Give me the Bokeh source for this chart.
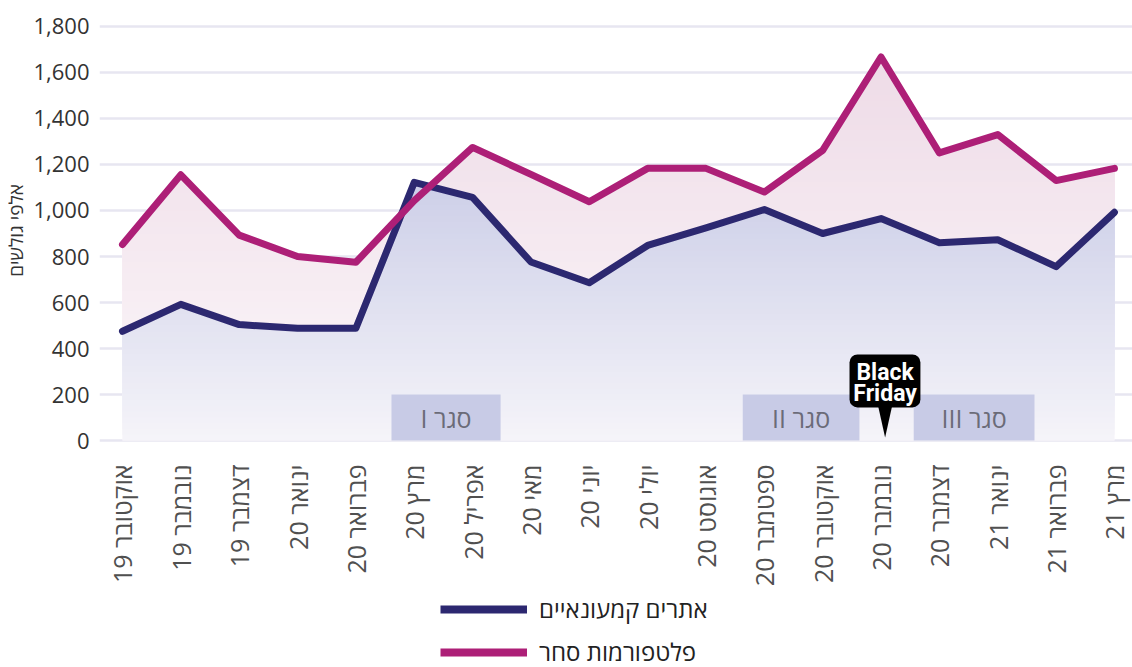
import math
import numpy as np
from bokeh.plotting import figure
from bokeh.layouts import column
from bokeh.models import (Range1d, FixedTicker, NumeralTickFormatter, Legend, LegendItem,
                          BoxAnnotation, PolyAnnotation, Label)
from bokeh.core.properties import value
from bokeh.embed import file_html
from bokeh.resources import INLINE

# ---------------- data ----------------
months = ["אוקטובר 19", "נובמבר 19", "דצמבר 19", "ינואר 20", "פברואר 20", "מרץ 20",
          "אפריל 20", "מאי 20", "יוני 20", "יולי 20", "אוגוסט 20", "ספטמבר 20",
          "אוקטובר 20", "נובמבר 20", "דצמבר 20", "ינואר 21", "פברואר 21", "מרץ 21"]
retail_sites = [475, 592, 504, 488, 488, 1122, 1057, 776, 686, 848, 924, 1004,
                900, 965, 860, 873, 756, 992]
trade_platforms = [852, 1155, 893, 800, 775, 1043, 1274, 1157, 1038, 1183, 1183, 1080,
                   1261, 1667, 1250, 1330, 1130, 1183]
series_names = ["אתרים קמעונאיים", "פלטפורמות סחר"]
lockdown_names = ["I סגר", "II סגר", "III סגר"]
lockdown_start = [4.61, 10.63, 13.56]   # position on the month axis
lockdown_end = [6.48, 12.63, 15.63]
lockdown_top = [200, 200, 200]
black_friday_month = "נובמבר 20"
y_ticks = [0, 200, 400, 600, 800, 1000, 1200, 1400, 1600, 1800]
y_title = "אלפי גולשים"

FONT = "Open Sans"
NAVY = "#2c2870"
MAGENTA = "#ad1f77"

x = np.arange(len(months))

p = figure(frame_width=1035, frame_height=428, output_backend="svg", toolbar_location=None,
           x_range=Range1d(-0.394, 17.344), y_range=Range1d(-17, 1843),
           min_border_left=97, min_border_right=0, min_border_top=16,
           min_border_bottom=146)
p.outline_line_color = None
p.background_fill_color = "white"
p.xgrid.visible = False
p.ygrid.grid_line_color = "#e7e6f1"
p.ygrid.grid_line_width = 2.5

# ---------------- gradient areas ----------------
xd = np.linspace(0, len(months) - 1, (len(months) - 1) * 20 + 1)


def gradient_area(series, vmax, c_bottom, c_top, step=25):
    yd = np.interp(xd, x, series)
    lo = 0
    while lo < max(series):
        t = min((lo + step / 2) / vmax, 1.0)
        col = tuple(int(round(b + (c - b) * t)) for b, c in zip(c_bottom, c_top))
        p.varea(x=xd, y1=np.minimum(yd, lo), y2=yd,
                fill_color="#%02x%02x%02x" % col, fill_alpha=1.0)
        lo += step


gradient_area(trade_platforms, max(trade_platforms), (252, 248, 250), (238, 219, 231))
gradient_area(retail_sites, max(retail_sites), (245, 244, 249), (205, 207, 232))

# ---------------- lockdown boxes ----------------
p.quad(left=lockdown_start, right=lockdown_end, bottom=[0] * 3, top=lockdown_top,
       fill_color="#c8cbe6", line_color=None)
p.text(x=[(a + b) / 2 for a, b in zip(lockdown_start, lockdown_end)],
       y=[t / 2 for t in lockdown_top], text=lockdown_names,
       text_align="center", text_baseline="middle", text_color="#6b6b78",
       text_font=value(FONT), text_font_size="25px")

# ---------------- lines ----------------
l_retail = p.line(x, retail_sites, line_color=NAVY, line_width=7,
                  line_join="round", line_cap="round")
l_trade = p.line(x, trade_platforms, line_color=MAGENTA, line_width=7,
                 line_join="round", line_cap="round")

# ---------------- Black Friday callout ----------------
bf = months.index(black_friday_month)
p.add_layout(BoxAnnotation(left=bf - 0.54, right=bf + 0.675, bottom=144, top=374,
                           fill_color="black", fill_alpha=1, line_color=None,
                           border_radius=8))
p.add_layout(PolyAnnotation(xs=[bf - 0.05, bf + 0.19, bf + 0.07], ys=[150, 150, 13],
                            fill_color="black", fill_alpha=1, line_color=None))
for txt, yy in (("Black", 298), ("Friday", 206)):
    p.add_layout(Label(x=bf + 0.07, y=yy, text=txt, text_align="center",
                       text_baseline="middle", text_color="white",
                       text_font="Roboto", text_font_style="bold",
                       text_font_size="23px"))

# ---------------- axes ----------------
p.yaxis.ticker = FixedTicker(ticks=y_ticks)
p.yaxis.formatter = NumeralTickFormatter(format="0,0")
p.yaxis.axis_line_color = None
p.yaxis.major_tick_line_color = None
p.yaxis.minor_tick_line_color = None
p.yaxis.major_label_text_font = FONT
p.yaxis.major_label_text_font_size = "22px"
p.yaxis.major_label_text_color = "#333333"
p.yaxis.major_label_standoff = 4
p.yaxis.axis_label = y_title
p.yaxis.axis_label_text_font = FONT
p.yaxis.axis_label_text_font_style = "normal"
p.yaxis.axis_label_text_font_size = "19px"
p.yaxis.axis_label_text_color = "#333333"
p.yaxis.axis_label_standoff = 1

p.xaxis.ticker = FixedTicker(ticks=list(range(len(months))))
p.xaxis.major_label_overrides = {i: m for i, m in enumerate(months)}
p.xaxis.major_label_orientation = math.pi / 2
p.xaxis.axis_line_color = None
p.xaxis.major_tick_line_color = None
p.xaxis.minor_tick_line_color = None
p.xaxis.major_label_text_font = FONT
p.xaxis.major_label_text_font_size = "25px"
p.xaxis.major_label_text_color = "#505050"
p.xaxis.major_label_standoff = 14

# ---------------- legend strip below the chart ----------------
q = figure(width=1132, height=77, output_backend="svg", toolbar_location=None,
           x_axis_location=None, y_axis_location=None,
           min_border_left=0, min_border_right=0, min_border_top=0, min_border_bottom=0)
q.outline_line_color = None
q.grid.visible = False
q_retail = q.line(x, retail_sites, line_color=NAVY, line_width=8, visible=False)
q_trade = q.line(x, trade_platforms, line_color=MAGENTA, line_width=8, visible=False)
legend = Legend(items=[LegendItem(label=series_names[0], renderers=[q_retail]),
                       LegendItem(label=series_names[1], renderers=[q_trade])],
                location=(341, -1), orientation="vertical", click_policy="none",
                glyph_width=87, glyph_height=24, label_height=24, label_standoff=12,
                spacing=10, padding=0, margin=0,
                label_text_font=FONT, label_text_font_size="24px",
                label_text_color="#222222",
                border_line_color=None, background_fill_alpha=0)
q.add_layout(legend, "center")

layout = column(p, q, spacing=0)
open("out.html", "w").write(file_html(layout, INLINE))
